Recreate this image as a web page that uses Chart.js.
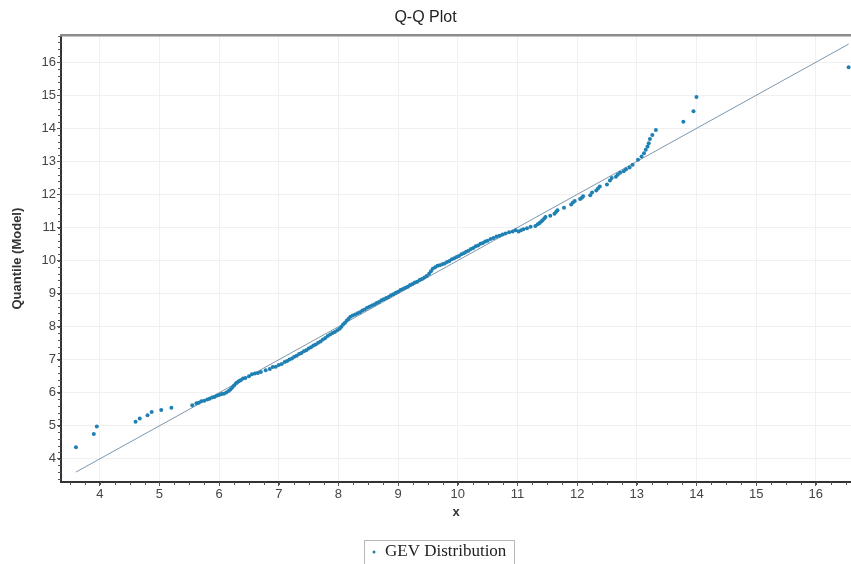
<!DOCTYPE html>
<html>
<head>
<meta charset="utf-8">
<title>Q-Q Plot</title>
<script src="https://cdn.jsdelivr.net/npm/chart.js@4"></script>
<style>
  body { margin: 0; background: #fff; }
  canvas { display: block; }
</style>
</head>
<body>
<canvas id="qqChart" width="851" height="564"></canvas>
<script>
// observed sample (x) vs GEV model quantile (y)
const qqX = [
  3.6, 3.9, 3.95, 4.6, 4.67, 4.8, 4.87, 5.03, 5.2, 5.55,
  5.62, 5.66, 5.7, 5.75, 5.8, 5.84, 5.88, 5.92, 5.96, 6.0, 6.04, 6.08, 6.12, 6.16, 6.19, 6.22,
  6.25, 6.28, 6.3, 6.33, 6.36, 6.4, 6.44, 6.5, 6.55, 6.6,
  6.65, 6.7, 6.78, 6.85, 6.9, 6.95, 7.0, 7.05,
  7.1, 7.14, 7.18, 7.22, 7.26, 7.3, 7.34, 7.38, 7.42, 7.46, 7.5, 7.54, 7.58, 7.62, 7.66, 7.7, 7.74,
  7.78, 7.82, 7.86, 7.9, 7.94, 7.98, 8.02, 8.05, 8.08, 8.11, 8.14, 8.17, 8.2, 8.24,
  8.28, 8.32, 8.36, 8.4, 8.44, 8.48, 8.52, 8.56, 8.6, 8.64, 8.68, 8.72, 8.76, 8.8, 8.84, 8.88,
  8.92, 8.96, 9.0, 9.04, 9.08, 9.12, 9.16, 9.2, 9.24, 9.28, 9.32, 9.36, 9.4, 9.44, 9.48,
  9.52, 9.55, 9.58, 9.62, 9.66,
  9.7, 9.74, 9.78, 9.82, 9.86, 9.9, 9.94, 9.98, 10.02, 10.06, 10.1, 10.14, 10.18, 10.22, 10.26,
  10.3, 10.34, 10.38, 10.42, 10.46, 10.5, 10.55, 10.6, 10.65, 10.7, 10.75, 10.8, 10.86, 10.92, 10.97,
  11.02, 11.06, 11.1, 11.16, 11.22, 11.3, 11.34, 11.37, 11.4, 11.42, 11.45, 11.47, 11.55, 11.62, 11.65,
  11.67, 11.78, 11.9, 11.93, 11.96, 12.05, 12.08, 12.1, 12.22, 12.25, 12.32, 12.35, 12.38, 12.5, 12.55,
  12.58, 12.65, 12.68, 12.72, 12.78, 12.82, 12.88, 12.93,
  13.02, 13.08, 13.12, 13.15, 13.18, 13.2, 13.22, 13.26, 13.32, 13.78, 13.95, 14.0, 16.55
];
const qqY = [
  4.35, 4.75, 4.98, 5.12, 5.22, 5.32, 5.42, 5.48, 5.55, 5.62,
  5.68, 5.7, 5.74, 5.76, 5.8, 5.82, 5.86, 5.87, 5.91, 5.93, 5.96, 5.97, 6.01, 6.05, 6.1, 6.16,
  6.22, 6.28, 6.31, 6.35, 6.38, 6.43, 6.45, 6.5, 6.56, 6.58,
  6.6, 6.63, 6.68, 6.72, 6.78, 6.79, 6.84, 6.87,
  6.93, 6.96, 7.01, 7.04, 7.09, 7.12, 7.17, 7.2, 7.26, 7.29, 7.34, 7.38, 7.43, 7.46, 7.51, 7.55, 7.61,
  7.66, 7.72, 7.76, 7.81, 7.84, 7.89, 7.94, 8.0, 8.07, 8.12, 8.19, 8.24, 8.3, 8.34,
  8.37, 8.41, 8.44, 8.49, 8.52, 8.57, 8.6, 8.64, 8.67, 8.72, 8.75, 8.8, 8.83, 8.87, 8.9, 8.95,
  8.98, 9.03, 9.06, 9.11, 9.14, 9.18, 9.21, 9.26, 9.29, 9.34, 9.36, 9.41, 9.44, 9.49, 9.53,
  9.6, 9.68, 9.75, 9.8, 9.84,
  9.86, 9.89, 9.91, 9.96, 9.99, 10.04, 10.07, 10.11, 10.14, 10.19, 10.22, 10.27, 10.3, 10.35, 10.38,
  10.43, 10.46, 10.51, 10.53, 10.58, 10.6, 10.65, 10.68, 10.73, 10.75, 10.79, 10.82, 10.86, 10.88, 10.92,
  10.88, 10.92, 10.95, 10.98, 11.02, 11.05, 11.1, 11.14, 11.18, 11.22, 11.27, 11.32, 11.36, 11.42, 11.48,
  11.52, 11.6, 11.7, 11.76, 11.8, 11.86, 11.9, 11.95, 11.98, 12.06, 12.12, 12.18, 12.24, 12.3, 12.42,
  12.5, 12.54, 12.6, 12.66, 12.7, 12.76, 12.82, 12.9,
  13.05, 13.15, 13.25, 13.35, 13.45, 13.55, 13.68, 13.8, 13.95, 14.2, 14.52, 14.95, 15.85
];
// reference line y = x
const refX = [3.6, 16.55];
const refY = [3.6, 16.55];

const xTicks = [4, 5, 6, 7, 8, 9, 10, 11, 12, 13, 14, 15, 16];
const yTicks = [4, 5, 6, 7, 8, 9, 10, 11, 12, 13, 14, 15, 16];

const points = qqX.map((x, i) => ({ x: x, y: qqY[i] }));
const refLine = refX.map((x, i) => ({ x: x, y: refY[i] }));

const sansFont = '"Liberation Sans", Arial, sans-serif';

// minor tick marks + top frame line + boxed legend
const decorPlugin = {
  id: 'decor',
  afterDraw(chart) {
    const ctx = chart.ctx;
    const area = chart.chartArea;
    const xs = chart.scales.x, ys = chart.scales.y;
    ctx.save();
    ctx.strokeStyle = '#555';
    ctx.lineWidth = 1;
    ctx.beginPath();
    for (let v = Math.ceil(xs.min * 4) / 4; v <= xs.max; v += 0.25) {
      const px = Math.round(xs.getPixelForValue(v)) + 0.5;
      ctx.moveTo(px, area.bottom);
      ctx.lineTo(px, area.bottom + 3);
    }
    for (let v = Math.ceil(ys.min * 5) / 5; v <= ys.max; v += 0.2) {
      const py = Math.round(ys.getPixelForValue(v)) + 0.5;
      ctx.moveTo(area.left, py);
      ctx.lineTo(area.left - 3, py);
    }
    ctx.stroke();

    ctx.strokeStyle = '#8c8c8c';
    ctx.lineWidth = 2.5;
    ctx.beginPath();
    ctx.moveTo(area.left - 1, area.top);
    ctx.lineTo(area.right, area.top);
    ctx.stroke();

    // legend box
    ctx.strokeStyle = '#b8b8b8';
    ctx.lineWidth = 1;
    ctx.strokeRect(364.5, 540.5, 150, 26);
    ctx.fillStyle = '#1f80b3';
    ctx.beginPath();
    ctx.arc(374, 552, 1.5, 0, Math.PI * 2);
    ctx.fill();
    ctx.fillStyle = '#222';
    ctx.font = '17px "Liberation Serif", "Times New Roman", serif';
    ctx.textBaseline = 'middle';
    ctx.textAlign = 'left';
    ctx.fillText('GEV Distribution', 385, 552);
    ctx.restore();
  }
};

const ctx = document.getElementById('qqChart').getContext('2d');
new Chart(ctx, {
  type: 'scatter',
  data: {
    datasets: [{
      label: 'GEV Distribution',
      data: points,
      backgroundColor: '#1f80b3',
      borderColor: '#1f80b3',
      pointRadius: 2,
      pointBorderWidth: 0
    }, {
      type: 'line',
      label: 'Reference',
      data: refLine,
      borderColor: '#7d97ad',
      borderWidth: 1,
      pointRadius: 0,
      fill: false
    }]
  },
  plugins: [decorPlugin],
  options: {
    responsive: false,
    animation: false,
    layout: { autoPadding: false, padding: { top: 0, right: 0, bottom: 40, left: 0 } },
    plugins: {
      legend: { display: false },
      tooltip: { enabled: false },
      title: {
        display: true,
        text: 'Q-Q Plot',
        color: '#222',
        font: { family: sansFont, size: 16, weight: 'normal' },
        padding: { top: 8, bottom: 8 }
      }
    },
    scales: {
      x: {
        type: 'linear',
        min: 3.35,
        max: 16.59,
        afterBuildTicks: axis => { axis.ticks = xTicks.map(v => ({ value: v })); },
        afterFit: axis => { axis.height = 42; },
        ticks: {
          color: '#444',
          font: { family: sansFont, size: 13 },
          padding: 1,
          maxRotation: 0,
          autoSkip: false
        },
        grid: { color: '#f0f0f0', tickColor: '#555', tickLength: 4 },
        border: { color: '#333', width: 2 },
        title: {
          display: true,
          text: 'x',
          color: '#333',
          font: { family: sansFont, size: 13, weight: 'bold' },
          padding: { top: 2, bottom: 4 }
        }
      },
      y: {
        type: 'linear',
        min: 3.3,
        max: 16.82,
        afterBuildTicks: axis => { axis.ticks = yTicks.map(v => ({ value: v })); },
        afterFit: axis => { axis.width = 61; },
        ticks: {
          color: '#444',
          font: { family: sansFont, size: 13 },
          padding: 1,
          autoSkip: false
        },
        grid: { color: '#f0f0f0', tickColor: '#555', tickLength: 4 },
        border: { color: '#333', width: 2 },
        title: {
          display: true,
          text: 'Quantile (Model)',
          color: '#333',
          font: { family: sansFont, size: 13, weight: 'bold' },
          padding: { top: 10, bottom: 2 }
        }
      }
    }
  }
});
</script>
</body>
</html>
